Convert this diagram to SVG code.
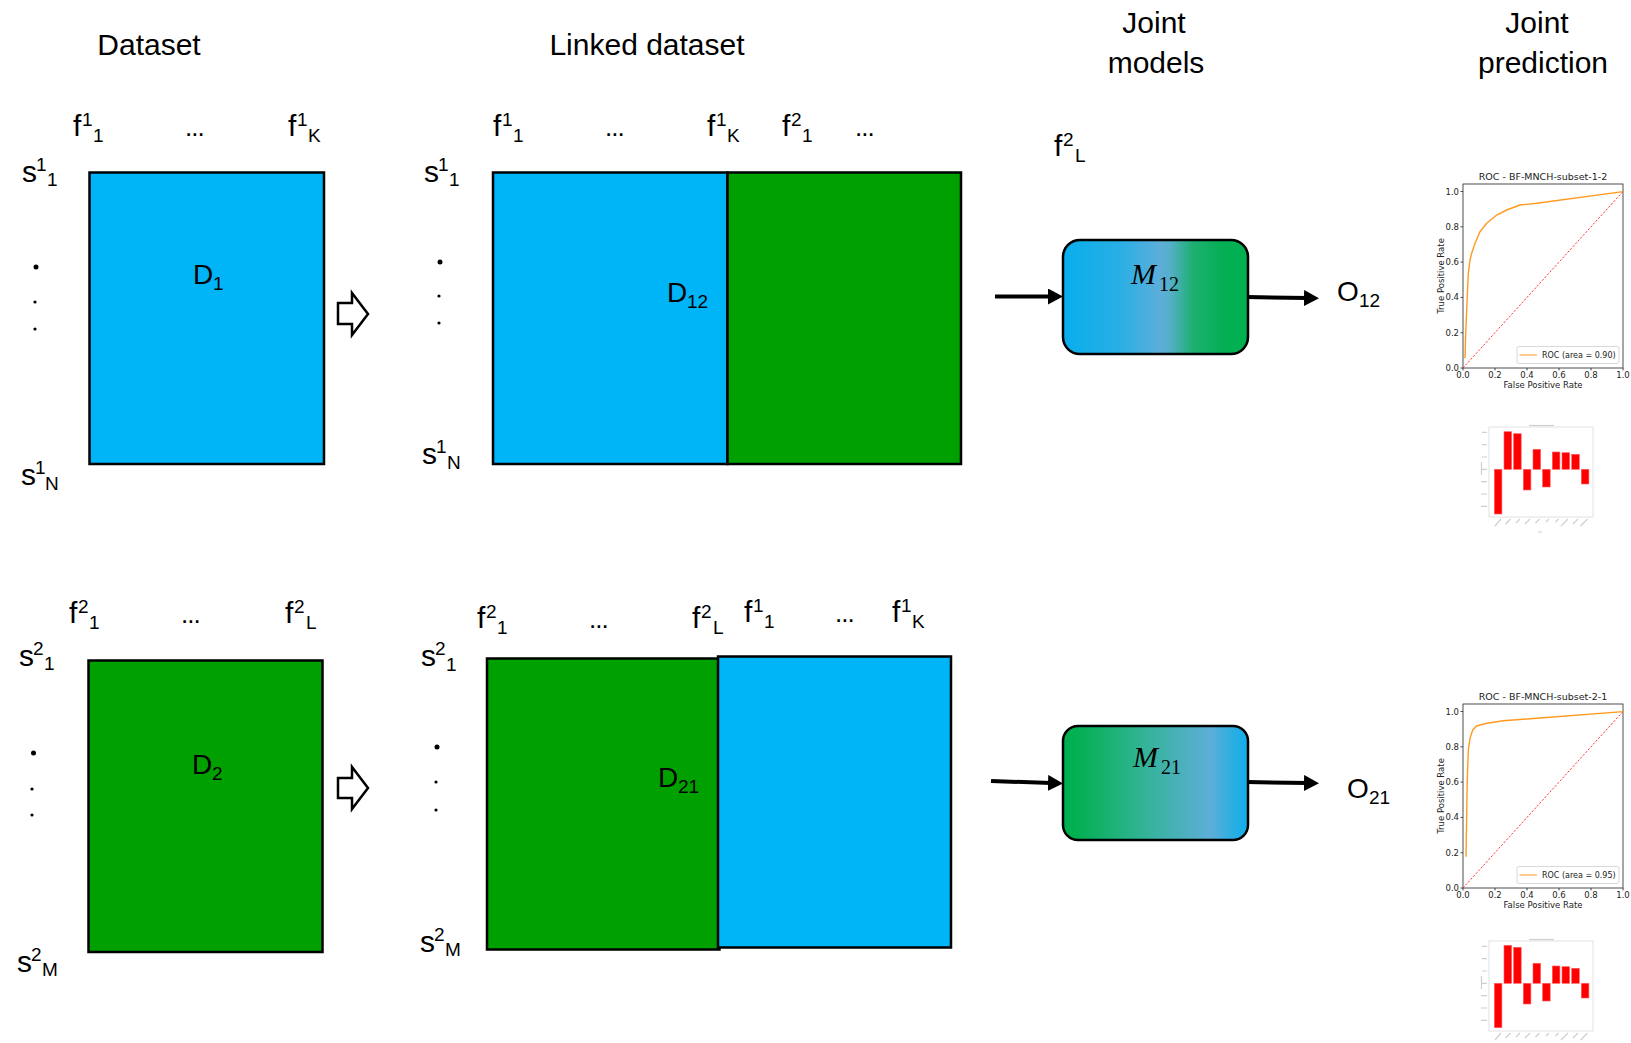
<svg xmlns="http://www.w3.org/2000/svg" width="1631" height="1043" viewBox="0 0 1631 1043">
<style>
text{font-family:"Liberation Sans","DejaVu Sans",sans-serif;fill:#000}
.ttl{font-size:30px;text-anchor:middle}
.lb{font-size:30px}
.dl{font-size:28px}
.sp{font-size:19px}
.dots{font-size:26px;letter-spacing:-1px}
.blue{fill:#00B4F8;stroke:#000;stroke-width:2.5}
.green{fill:#00A000;stroke:#000;stroke-width:2.5}
.harrow{fill:#fff;stroke:#000;stroke-width:2.5;stroke-linejoin:miter}
.model{stroke:#000;stroke-width:2.5}
.mi{font-family:"Liberation Serif",serif;font-style:italic;font-size:30px}
.ms{font-family:"Liberation Serif",serif;font-size:20px}
.conn{stroke:#000;stroke-width:4;fill:none;marker-end:url(#ah)}
.mp text{font-family:"DejaVu Sans",sans-serif;fill:#222}
.frame{fill:none;stroke:#222;stroke-width:0.8}
.tick{stroke:#222;stroke-width:0.8}
.tk{font-size:8px}
.tkx{font-size:8.5px;text-anchor:middle}
.tky{font-size:8.5px;text-anchor:end}
.ct{font-size:9.5px;text-anchor:middle}
.roc{fill:none;stroke:#FF9A1F;stroke-width:1.4}
.diag{stroke:#FF2020;stroke-width:0.9;stroke-dasharray:2.2 1.6}
.leg{fill:#fff;fill-opacity:0.85;stroke:#cfcfcf;stroke-width:0.8}
.bar{fill:#FF0000;stroke:#FF6060;stroke-width:0.6}
.bframe{fill:none;stroke:#e2e2e2;stroke-width:1}
.faint{stroke:#cfcfcf;stroke-width:1.2}
</style>
<defs>
<marker id="ah" markerUnits="userSpaceOnUse" viewBox="0 0 15 16" markerWidth="15" markerHeight="16" refX="3" refY="8" orient="auto">
<path d="M0,0 L15,8 L0,16 z" fill="#000"/>
</marker>
<linearGradient id="g12" x1="0" y1="0" x2="1" y2="0">
<stop offset="0" stop-color="#08AEEC"/>
<stop offset="0.3" stop-color="#27AFE5"/>
<stop offset="0.52" stop-color="#5CAEDA"/>
<stop offset="0.58" stop-color="#55AFC8"/>
<stop offset="0.7" stop-color="#1EB072"/>
<stop offset="0.85" stop-color="#06AF56"/>
<stop offset="1" stop-color="#00B050"/>
</linearGradient>
<linearGradient id="g21" x1="0" y1="0" x2="1" y2="0">
<stop offset="0" stop-color="#00B050"/>
<stop offset="0.08" stop-color="#03B052"/>
<stop offset="0.45" stop-color="#35B39A"/>
<stop offset="0.8" stop-color="#5DAED8"/>
<stop offset="0.92" stop-color="#2AAEE2"/>
<stop offset="1" stop-color="#10AEEB"/>
</linearGradient>
</defs>
<rect width="1631" height="1043" fill="#fff"/>

<g id="titles">
<text class="ttl" x="149" y="55">Dataset</text>
<text class="ttl" x="647" y="55">Linked dataset</text>
<text class="ttl" x="1154" y="33">Joint</text>
<text class="ttl" x="1156" y="73">models</text>
<text class="ttl" x="1537" y="33">Joint</text>
<text class="ttl" x="1543" y="73">prediction</text>
</g>

<g id="dataset1">
<rect class="blue" x="89.5" y="172.5" width="234.5" height="291.5"/>
<text class="dl"><tspan x="193" y="284">D</tspan><tspan class="sp" x="213" y="290">1</tspan></text>
<text class="lb"><tspan x="73" y="136">f</tspan><tspan class="sp" x="82" y="126">1</tspan><tspan class="sp" x="93" y="142">1</tspan></text>
<text class="dots" x="185" y="136">...</text>
<text class="lb"><tspan x="288" y="136">f</tspan><tspan class="sp" x="297" y="126">1</tspan><tspan class="sp" x="308" y="142">K</tspan></text>
<text class="lb"><tspan x="22" y="182">s</tspan><tspan class="sp" x="36" y="171">1</tspan><tspan class="sp" x="47" y="186">1</tspan></text>
<circle cx="36" cy="267" r="2.5"/><circle cx="35" cy="302" r="1.6"/><circle cx="35" cy="329" r="1.6"/>
<text class="lb"><tspan x="21" y="485">s</tspan><tspan class="sp" x="35" y="474">1</tspan><tspan class="sp" x="45" y="490">N</tspan></text>
</g>

<g id="transform1">
<polygon class="harrow" points="338,303 352,303 352,293 368,314 352,335 352,324 338,324"/>
</g>

<g id="linked12">
<rect class="blue" x="493" y="172.5" width="234.5" height="291.5"/>
<rect class="green" x="727.5" y="172.5" width="233.5" height="291.5"/>
<text class="dl"><tspan x="667" y="302">D</tspan><tspan class="sp" x="687" y="308">12</tspan></text>
<text class="lb"><tspan x="493" y="136">f</tspan><tspan class="sp" x="502" y="126">1</tspan><tspan class="sp" x="513" y="142">1</tspan></text>
<text class="dots" x="605" y="136">...</text>
<text class="lb"><tspan x="707" y="136">f</tspan><tspan class="sp" x="716" y="126">1</tspan><tspan class="sp" x="727" y="142">K</tspan></text>
<text class="lb"><tspan x="782" y="136">f</tspan><tspan class="sp" x="791" y="126">2</tspan><tspan class="sp" x="802" y="142">1</tspan></text>
<text class="dots" x="855" y="136">...</text>
<text class="lb"><tspan x="1054" y="156">f</tspan><tspan class="sp" x="1063" y="146">2</tspan><tspan class="sp" x="1075" y="162">L</tspan></text>
<text class="lb"><tspan x="424" y="182">s</tspan><tspan class="sp" x="438" y="171">1</tspan><tspan class="sp" x="449" y="186">1</tspan></text>
<circle cx="440" cy="262" r="2.5"/><circle cx="439" cy="296" r="1.6"/><circle cx="439" cy="323" r="1.6"/>
<text class="lb"><tspan x="422" y="464">s</tspan><tspan class="sp" x="436" y="453">1</tspan><tspan class="sp" x="447" y="469">N</tspan></text>
</g>

<g id="dataset2">
<rect class="green" x="88.5" y="660.5" width="234" height="291.5"/>
<text class="dl"><tspan x="192" y="774">D</tspan><tspan class="sp" x="212" y="780">2</tspan></text>
<text class="lb"><tspan x="69" y="623">f</tspan><tspan class="sp" x="78" y="613">2</tspan><tspan class="sp" x="89" y="629">1</tspan></text>
<text class="dots" x="181" y="623">...</text>
<text class="lb"><tspan x="285" y="623">f</tspan><tspan class="sp" x="294" y="613">2</tspan><tspan class="sp" x="306" y="629">L</tspan></text>
<text class="lb"><tspan x="19" y="666">s</tspan><tspan class="sp" x="33" y="655">2</tspan><tspan class="sp" x="44" y="670">1</tspan></text>
<circle cx="33.5" cy="753" r="2.5"/><circle cx="32" cy="789" r="1.6"/><circle cx="32" cy="815" r="1.6"/>
<text class="lb"><tspan x="17" y="972">s</tspan><tspan class="sp" x="31" y="961">2</tspan><tspan class="sp" x="42" y="976">M</tspan></text>
</g>

<g id="transform2">
<polygon class="harrow" points="338,778 352,778 352,767 368,788 352,809 352,798 338,798"/>
</g>

<g id="linked21">
<rect class="green" x="487" y="658.5" width="232.5" height="291"/>
<rect class="blue" x="718" y="656.5" width="233" height="291"/>
<text class="dl"><tspan x="658" y="787">D</tspan><tspan class="sp" x="678" y="793">21</tspan></text>
<text class="lb"><tspan x="477" y="628">f</tspan><tspan class="sp" x="486" y="618">2</tspan><tspan class="sp" x="497" y="634">1</tspan></text>
<text class="dots" x="589" y="628">...</text>
<text class="lb"><tspan x="692" y="628">f</tspan><tspan class="sp" x="701" y="618">2</tspan><tspan class="sp" x="713" y="634">L</tspan></text>
<text class="lb"><tspan x="744" y="622">f</tspan><tspan class="sp" x="753" y="612">1</tspan><tspan class="sp" x="764" y="628">1</tspan></text>
<text class="dots" x="835" y="622">...</text>
<text class="lb"><tspan x="892" y="622">f</tspan><tspan class="sp" x="901" y="612">1</tspan><tspan class="sp" x="912" y="628">K</tspan></text>
<text class="lb"><tspan x="421" y="666">s</tspan><tspan class="sp" x="435" y="655">2</tspan><tspan class="sp" x="446" y="671">1</tspan></text>
<circle cx="437" cy="747" r="2.5"/><circle cx="436" cy="782" r="1.6"/><circle cx="436" cy="810" r="1.6"/>
<text class="lb"><tspan x="420" y="952">s</tspan><tspan class="sp" x="434" y="941">2</tspan><tspan class="sp" x="445" y="956">M</tspan></text>
</g>

<g id="model12">
<rect class="model" x="1063" y="240" width="185" height="114" rx="17" fill="url(#g12)"/>
<text><tspan class="mi" x="1131" y="284">M</tspan><tspan class="ms" x="1159" y="291">12</tspan></text>
</g>
<g id="output12">
<text class="dl"><tspan x="1337" y="301">O</tspan><tspan class="sp" x="1359" y="307">12</tspan></text>
</g>

<g id="model21">
<rect class="model" x="1063" y="726" width="185" height="114" rx="15" fill="url(#g21)"/>
<text><tspan class="mi" x="1133" y="767">M</tspan><tspan class="ms" x="1161" y="774">21</tspan></text>
</g>
<g id="output21">
<text class="dl"><tspan x="1347" y="798">O</tspan><tspan class="sp" x="1369" y="804">21</tspan></text>
</g>

<g id="connectors">
<line class="conn" x1="995" y1="296.5" x2="1051" y2="296.5"/>
<line class="conn" x1="1247" y1="297" x2="1307" y2="298"/>
<line class="conn" x1="991" y1="781" x2="1051" y2="783"/>
<line class="conn" x1="1247" y1="782" x2="1307" y2="783"/>
</g>

<g id="roc12" class="mp">
<text class="ct" x="1543" y="180">ROC - BF-MNCH-subset-1-2</text>
<rect class="frame" x="1463" y="184" width="160" height="184"/>
<path class="tick" d="M1463,368v2.5M1495,368v2.5M1527,368v2.5M1559,368v2.5M1591,368v2.5M1623,368v2.5M1463,368h-2.5M1463,332.7h-2.5M1463,297.4h-2.5M1463,262.1h-2.5M1463,226.8h-2.5M1463,191.5h-2.5"/>
<text class="tkx" x="1463" y="378">0.0</text><text class="tkx" x="1495" y="378">0.2</text><text class="tkx" x="1527" y="378">0.4</text><text class="tkx" x="1559" y="378">0.6</text><text class="tkx" x="1591" y="378">0.8</text><text class="tkx" x="1623" y="378">1.0</text>
<text class="tky" x="1459" y="371">0.0</text><text class="tky" x="1459" y="335.7">0.2</text><text class="tky" x="1459" y="300.4">0.4</text><text class="tky" x="1459" y="265.1">0.6</text><text class="tky" x="1459" y="229.8">0.8</text><text class="tky" x="1459" y="194.5">1.0</text>
<text class="tkx" x="1543" y="388">False Positive Rate</text>
<text class="tkx" transform="translate(1443.5,276) rotate(-90)">True Positive Rate</text>
<line class="diag" x1="1463" y1="368" x2="1623" y2="191.5"/>
<polyline class="roc" points="1465,358.3 1465.7,333.3 1466.7,310 1468.3,273.3 1470,260 1471.7,253.3 1475,243.3 1480,231.7 1486.7,223.3 1496.7,215 1506.7,210 1520,205 1536.7,203.3 1623,191.6"/>
<rect class="leg" x="1517" y="346.5" width="102" height="17" rx="2"/>
<line x1="1519.5" y1="355" x2="1537" y2="355" stroke="#FFBD73" stroke-width="1.6"/>
<text class="tk" x="1542" y="358">ROC (area = 0.90)</text>
</g>

<g id="roc21" class="mp" transform="translate(0,520)">
<text class="ct" x="1543" y="180">ROC - BF-MNCH-subset-2-1</text>
<rect class="frame" x="1463" y="184" width="160" height="184"/>
<path class="tick" d="M1463,368v2.5M1495,368v2.5M1527,368v2.5M1559,368v2.5M1591,368v2.5M1623,368v2.5M1463,368h-2.5M1463,332.7h-2.5M1463,297.4h-2.5M1463,262.1h-2.5M1463,226.8h-2.5M1463,191.5h-2.5"/>
<text class="tkx" x="1463" y="378">0.0</text><text class="tkx" x="1495" y="378">0.2</text><text class="tkx" x="1527" y="378">0.4</text><text class="tkx" x="1559" y="378">0.6</text><text class="tkx" x="1591" y="378">0.8</text><text class="tkx" x="1623" y="378">1.0</text>
<text class="tky" x="1459" y="371">0.0</text><text class="tky" x="1459" y="335.7">0.2</text><text class="tky" x="1459" y="300.4">0.4</text><text class="tky" x="1459" y="265.1">0.6</text><text class="tky" x="1459" y="229.8">0.8</text><text class="tky" x="1459" y="194.5">1.0</text>
<text class="tkx" x="1543" y="388">False Positive Rate</text>
<text class="tkx" transform="translate(1443.5,276) rotate(-90)">True Positive Rate</text>
<line class="diag" x1="1463" y1="368" x2="1623" y2="191.5"/>
<polyline class="roc" points="1466,336.7 1466.7,293.3 1467.3,260 1468.3,230 1470,218.3 1472.7,210 1476.7,206 1486.7,203.3 1503.3,200.7 1536.7,198.3 1623,191.6"/>
<rect class="leg" x="1517" y="346.5" width="102" height="17" rx="2"/>
<line x1="1519.5" y1="355" x2="1537" y2="355" stroke="#FFBD73" stroke-width="1.6"/>
<text class="tk" x="1542" y="358">ROC (area = 0.95)</text>
</g>

<g id="bars12">
<rect class="bframe" x="1489" y="427" width="104" height="90"/>
<line class="faint" x1="1529" y1="425.5" x2="1554" y2="425.5"/>
<path class="faint" d="M1482,432.3h5M1482,444.7h5M1482,457h5M1482,469.3h5M1481,481.7h6M1481,494h6M1481,506.3h6M1481.5,462v13"/>
<rect class="bar" x="1494.3" y="469.3" width="7.6" height="44.7"/>
<rect class="bar" x="1504" y="431.7" width="7.6" height="37.6"/>
<rect class="bar" x="1513.6" y="433.7" width="7.6" height="35.6"/>
<rect class="bar" x="1523.3" y="469.3" width="7.6" height="20.7"/>
<rect class="bar" x="1533" y="449.3" width="7.6" height="20"/>
<rect class="bar" x="1542.6" y="469.3" width="7.6" height="17.7"/>
<rect class="bar" x="1552.3" y="452" width="7.6" height="17.3"/>
<rect class="bar" x="1562" y="452.7" width="7.6" height="16.6"/>
<rect class="bar" x="1571.7" y="454.3" width="7.6" height="15"/>
<rect class="bar" x="1581.3" y="469.3" width="7.6" height="14.7"/>
<path class="faint" stroke-width="0.9" d="M1501,519l-6,7M1510.5,519l-5,5M1520,519l-4,4M1530,519l-5,5M1539.5,519l-4,4M1549,519l-3,3M1558.5,519l-3,3M1568,519l-7,7M1578,519l-5,5M1587.5,519l-7,7M1538,532h4"/>
</g>

<g id="bars21" transform="translate(0,514)">
<rect class="bframe" x="1489" y="427" width="104" height="90"/>
<line class="faint" x1="1529" y1="425.5" x2="1554" y2="425.5"/>
<path class="faint" d="M1482,432.3h5M1482,444.7h5M1482,457h5M1482,469.3h5M1481,481.7h6M1481,494h6M1481,506.3h6M1481.5,462v13"/>
<rect class="bar" x="1494.3" y="469.3" width="7.6" height="44.4"/>
<rect class="bar" x="1504" y="431.3" width="7.6" height="38"/>
<rect class="bar" x="1513.6" y="433.3" width="7.6" height="36"/>
<rect class="bar" x="1523.3" y="469.3" width="7.6" height="20.7"/>
<rect class="bar" x="1533" y="449.3" width="7.6" height="20"/>
<rect class="bar" x="1542.6" y="469.3" width="7.6" height="17.7"/>
<rect class="bar" x="1552.3" y="452" width="7.6" height="17.3"/>
<rect class="bar" x="1562" y="452.7" width="7.6" height="16.6"/>
<rect class="bar" x="1571.7" y="454.3" width="7.6" height="15"/>
<rect class="bar" x="1581.3" y="469.3" width="7.6" height="14.7"/>
<path class="faint" stroke-width="0.9" d="M1501,519l-6,7M1510.5,519l-5,5M1520,519l-4,4M1530,519l-5,5M1539.5,519l-4,4M1549,519l-3,3M1558.5,519l-3,3M1568,519l-7,7M1578,519l-5,5M1587.5,519l-7,7"/>
</g>
</svg>
